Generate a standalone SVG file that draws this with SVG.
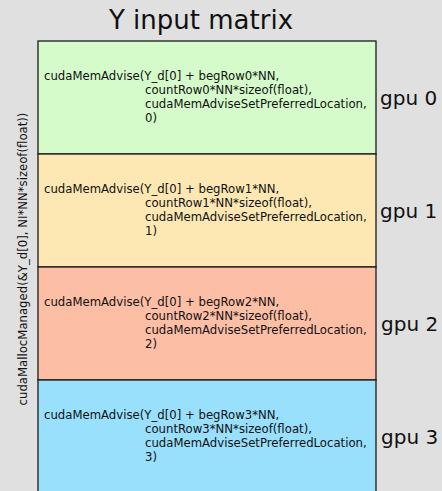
<svg xmlns="http://www.w3.org/2000/svg" width="442" height="491" viewBox="0 0 442 491">
<style>
.bg{fill:#e0e0e0}
.row{stroke:#1a1a1a;stroke-width:1.3}
.code{font-family:"DejaVu Sans",sans-serif;font-size:11.7px;fill:#111}
.gpu{font-family:"DejaVu Sans",sans-serif;font-size:20px;fill:#111}
.title{font-family:"DejaVu Sans",sans-serif;font-size:26px;fill:#111}
</style>
<rect class="bg" x="0" y="0" width="442" height="491"/>
<text class="title" x="201" y="29" text-anchor="middle">Y input matrix</text>
<g id="malloc">
<text class="code" transform="translate(27,259) rotate(-90)" text-anchor="middle">cudaMallocManaged(&amp;Y_d[0], NI*NN*sizeof(float))</text>
</g>
<g id="row0">
<rect class="row" x="38" y="41" width="338" height="113" fill="#d5fbcb"/>
<text class="code" x="44" y="80">cudaMemAdvise(Y_d[0] + begRow0*NN,<tspan x="145" dy="14">countRow0*NN*sizeof(float),</tspan><tspan x="145" dy="14">cudaMemAdviseSetPreferredLocation,</tspan><tspan x="145" dy="14">0)</tspan></text>
<text class="gpu" x="380" y="105">gpu 0</text>
</g>
<g id="row1">
<rect class="row" x="38" y="154" width="338" height="113" fill="#fde8b3"/>
<text class="code" x="44" y="193">cudaMemAdvise(Y_d[0] + begRow1*NN,<tspan x="145" dy="14">countRow1*NN*sizeof(float),</tspan><tspan x="145" dy="14">cudaMemAdviseSetPreferredLocation,</tspan><tspan x="145" dy="14">1)</tspan></text>
<text class="gpu" x="380" y="218">gpu 1</text>
</g>
<g id="row2">
<rect class="row" x="38" y="267" width="338" height="113" fill="#fdbea6"/>
<text class="code" x="44" y="306">cudaMemAdvise(Y_d[0] + begRow2*NN,<tspan x="145" dy="14">countRow2*NN*sizeof(float),</tspan><tspan x="145" dy="14">cudaMemAdviseSetPreferredLocation,</tspan><tspan x="145" dy="14">2)</tspan></text>
<text class="gpu" x="381" y="331">gpu 2</text>
</g>
<g id="row3">
<rect class="row" x="38" y="380" width="338" height="120" fill="#98e0fc"/>
<text class="code" x="44" y="419">cudaMemAdvise(Y_d[0] + begRow3*NN,<tspan x="145" dy="14">countRow3*NN*sizeof(float),</tspan><tspan x="145" dy="14">cudaMemAdviseSetPreferredLocation,</tspan><tspan x="145" dy="14">3)</tspan></text>
<text class="gpu" x="381" y="444">gpu 3</text>
</g>
<g id="connectors"/>
</svg>
